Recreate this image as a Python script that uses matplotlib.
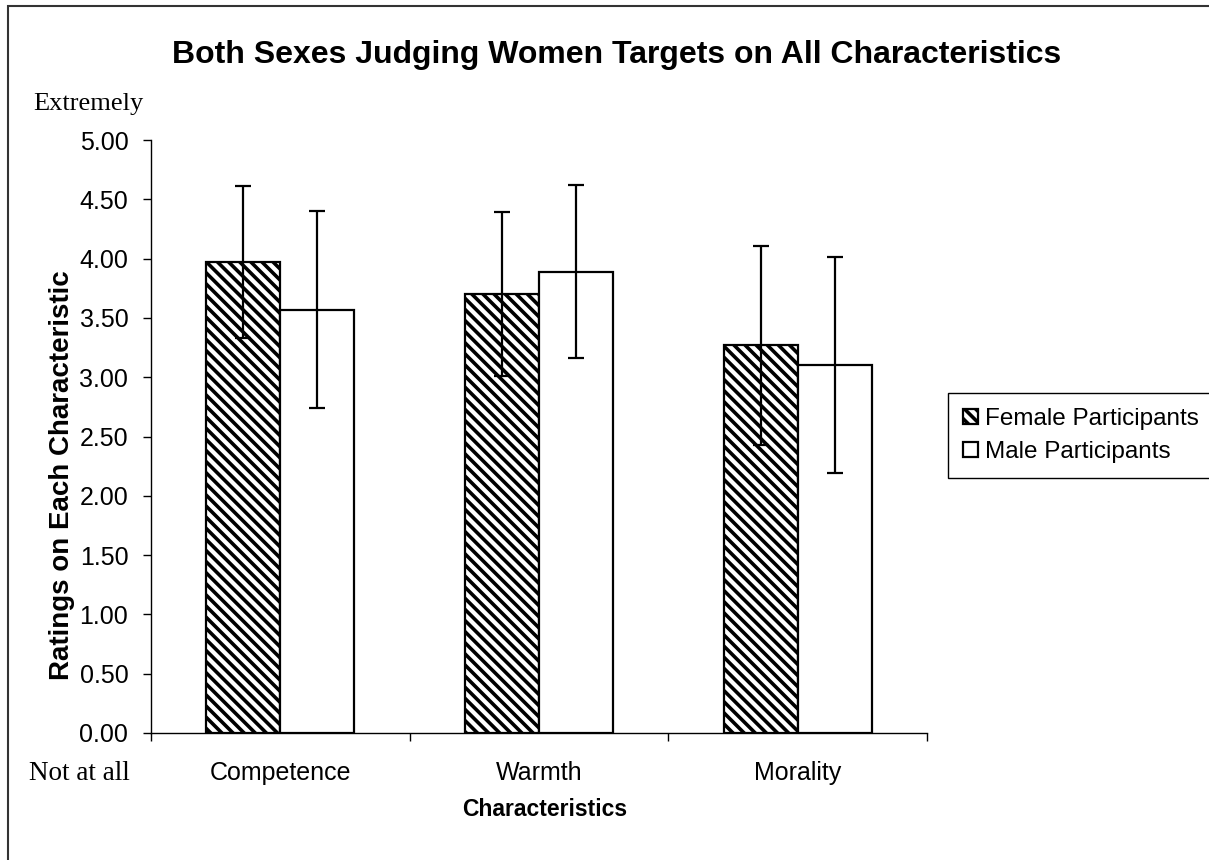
import matplotlib
matplotlib.use("Agg")
import matplotlib.pyplot as plt
import matplotlib.patches as mpatches
import numpy as np

categories = ["Competence", "Warmth", "Morality"]
female_means = [3.97, 3.70, 3.27]
male_means = [3.57, 3.89, 3.10]
female_err = [0.64, 0.69, 0.84]
male_err = [0.83, 0.73, 0.91]
series_labels = ["Female Participants", "Male Participants"]
yticks = [0.0, 0.5, 1.0, 1.5, 2.0, 2.5, 3.0, 3.5, 4.0, 4.5, 5.0]

plt.rcParams['font.family'] = ['Liberation Sans', 'DejaVu Sans']
plt.rcParams['hatch.linewidth'] = 2.6

W, H = 1209, 860
fig = plt.figure(figsize=(W/100, H/100), dpi=100)
ax = fig.add_axes([151/W, 1-733/H, (927-151)/W, (733-140)/H])

x = np.arange(len(categories))
w = 0.286
ekw = dict(elinewidth=1.6, capthick=1.6)
ax.bar(x - w/2, female_means, width=w, color='white', edgecolor='black', linewidth=1.6,
       hatch='\\\\\\', label=series_labels[0], zorder=2)
ax.bar(x + w/2, male_means, width=w, color='white', edgecolor='black', linewidth=1.6,
       label=series_labels[1], zorder=2)
ax.errorbar(x - w/2, female_means, yerr=female_err, fmt='none', ecolor='black',
            capsize=5.5, zorder=3, **ekw)
ax.errorbar(x + w/2, male_means, yerr=male_err, fmt='none', ecolor='black',
            capsize=5.5, zorder=3, **ekw)

ax.set_xlim(-0.5, len(categories) - 0.5)
ax.set_ylim(0, 5)
ax.set_yticks(yticks)
ax.set_yticklabels([f"{t:.2f}" for t in yticks], fontsize=18)
ax.set_xticks(np.arange(-0.5, len(categories), 1.0))
ax.set_xticklabels([])
ax.set_xticks(x, minor=True)
ax.set_xticklabels(categories, minor=True, fontsize=18)
ax.tick_params(axis='x', which='minor', length=0, pad=20)
ax.tick_params(axis='x', which='major', length=5.8, width=1, direction='out')
ax.tick_params(axis='y', length=5.8, width=1, direction='out', pad=10.5)
for s in ['top', 'right']:
    ax.spines[s].set_visible(False)
for s in ['left', 'bottom']:
    ax.spines[s].set_linewidth(1)

fig.text(545/W, 1-810/H, "Characteristics", ha='center', va='center',
         fontsize=16.5, fontweight='bold')
fig.text(62/W, 1-475/H, "Ratings on Each Characteristic", ha='center', va='center',
         rotation=90, fontsize=20, fontweight='bold')

fig.text(617/W, 1-55/H, "Both Sexes Judging Women Targets on All Characteristics",
         ha='center', va='center', fontsize=23, fontweight='bold')
fig.text(88/W, 1-104/H, "Extremely", ha='center', va='center', fontsize=19,
         family='Liberation Serif')
fig.text(79/W, 1-773/H, "Not at all", ha='center', va='center', fontsize=19.5,
         family='Liberation Serif')

leg = fig.legend(loc='upper left', bbox_to_anchor=(948/W, 1-393/H), fontsize=17.5,
                 frameon=True, fancybox=False, edgecolor='black', framealpha=1,
                 handlelength=0.6, handleheight=0.6, handletextpad=0.3,
                 borderpad=0.62, labelspacing=0.45, borderaxespad=0)
leg.get_frame().set_linewidth(1)

frame = mpatches.Rectangle((8/W, -0.1), 1.2, 1.1 - 6/H, transform=fig.transFigure,
                           fill=False, edgecolor='#333333', linewidth=1.5)
fig.patches.append(frame)

fig.savefig("out.png", dpi=100)
